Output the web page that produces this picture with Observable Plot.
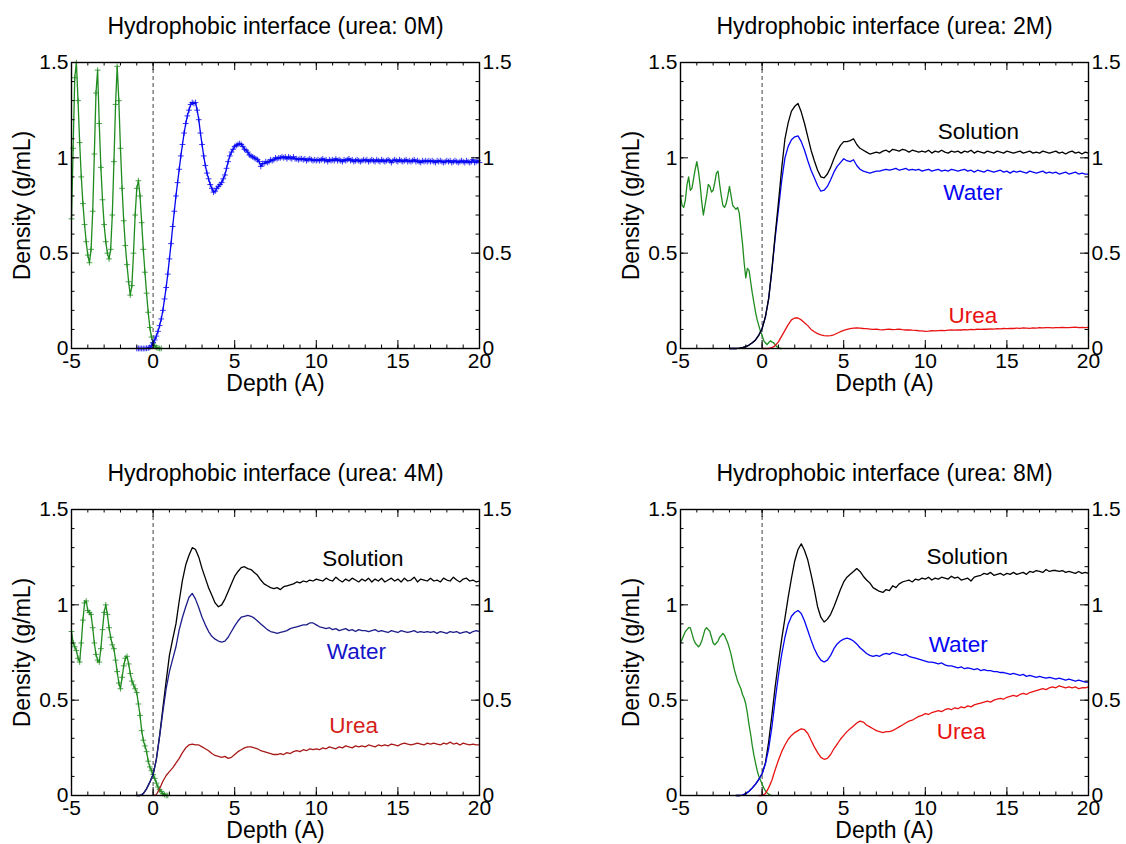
<!DOCTYPE html>
<html><head><meta charset="utf-8">
<script src="https://cdn.jsdelivr.net/npm/d3@7"></script>
<script src="https://cdn.jsdelivr.net/npm/@observablehq/plot@0.6"></script>
<style>
body{margin:0;background:#fff;}
#wrap{position:relative;width:1126px;height:844px;background:#fff;}
#wrap svg{position:absolute;overflow:visible;}
</style></head><body><div id="wrap"></div>
<script>
// ---------- text ----------
const titles = ["Hydrophobic interface (urea: 0M)","Hydrophobic interface (urea: 2M)","Hydrophobic interface (urea: 4M)","Hydrophobic interface (urea: 8M)"];
const xLabel = "Depth (A)";
const yLabel = "Density (g/mL)";
const xMajorTicks = [-5, 0, 5, 10, 15, 20];
const yMajorTicks = [0, 0.5, 1, 1.5];
const xMinorTicks = [-5,-4,-3,-2,-1,0,1,2,3,4,5,6,7,8,9,10,11,12,13,14,15,16,17,18,19,20];
const yMinorTicks = [0,0.1,0.2,0.3,0.4,0.5,0.6,0.7,0.8,0.9,1,1.1,1.2,1.3,1.4,1.5];

// ---------- data (density, g/mL), sampled on a regular depth grid ----------
// 0M
const wall0M = {start:-5, step:0.1, values:[0.68,1.05,1.42,1.50,1.30,1.08,0.90,0.76,0.65,0.56,
 0.49,0.45,0.52,0.72,1.02,1.34,1.46,1.18,0.95,0.78,
 0.65,0.56,0.50,0.47,0.52,0.70,0.98,1.28,1.48,1.30,
 1.05,0.84,0.67,0.54,0.44,0.35,0.28,0.33,0.50,0.70,
 0.84,0.88,0.80,0.66,0.52,0.40,0.29,0.19,0.11,0.06,
 0.03,0.015,0.006,0.002,0,0]};
const water0M = {start:-1, step:0.1, values:[0,0,0,0,0,0,0.001,0.002,0.006,0.015,
 0.03,0.045,0.065,0.09,0.12,0.155,0.20,0.26,0.32,0.39,
 0.47,0.55,0.64,0.72,0.80,0.87,0.94,1.01,1.07,1.13,
 1.18,1.22,1.25,1.28,1.29,1.285,1.29,1.25,1.20,1.13,
 1.07,1.01,0.96,0.92,0.89,0.86,0.84,0.82,0.825,0.84,
 0.85,0.86,0.87,0.89,0.91,0.945,0.98,1.01,1.03,1.045,
 1.06,1.065,1.07,1.075,1.07,1.06,1.045,1.04,1.03,1.015,
 1.01,1.005,1.0,0.995,0.99,0.98,0.955,0.97,0.97,0.98,
 0.975,0.98,0.99,0.985,0.99,1.0,0.995,1.0,1.0,1.005,
 1.0,1.005,0.995,1.005,1.0,0.995,1.005,0.995,0.995,0.99,
 0.995,0.995,0.99,0.995,0.985,0.99,0.995,0.99,0.985,0.99,
 0.985,0.99,0.985,0.99,0.995,0.985,0.99,0.98,0.99,0.985,
 0.99,0.985,0.995,0.985,0.99,0.985,0.98,0.99,0.985,0.99,
 0.995,0.985,0.99,0.98,0.985,0.99,0.985,0.98,0.985,0.99,
 0.985,0.99,0.98,0.985,0.99,0.985,0.98,0.99,0.985,0.98,
 0.99,0.985,0.98,0.985,0.99,0.985,0.975,0.985,0.99,0.985,
 0.98,0.99,0.985,0.98,0.985,0.99,0.98,0.985,0.98,0.985,
 0.99,0.98,0.985,0.98,0.975,0.985,0.98,0.985,0.98,0.985,
 0.98,0.985,0.98,0.975,0.985,0.98,0.985,0.98,0.975,0.98,
 0.985,0.98,0.985,0.975,0.98,0.985,0.98,0.975,0.98,0.985,
 0.98,0.975,0.985,0.98,0.975,0.98,0.99,0.975,0.98,0.985,
 0.975]};
// 2M
const wall2M = {start:-5, step:0.1, values:[0.80,0.75,0.74,0.78,0.86,0.90,0.83,0.84,0.89,0.94,
 0.98,0.93,0.86,0.77,0.70,0.75,0.80,0.86,0.85,0.82,
 0.83,0.87,0.92,0.93,0.86,0.80,0.75,0.74,0.76,0.80,
 0.85,0.80,0.75,0.74,0.73,0.74,0.71,0.63,0.55,0.45,
 0.37,0.42,0.41,0.35,0.29,0.24,0.19,0.15,0.12,0.09,
 0.07,0.04,0.03,0.02,0.03,0.04,0.035,0.03,0.02,0.01,
 0.005,0,0]};
const water2M = {start:-2, step:0.2, values:[0,0,0,0.002,0.005,0.01,0.018,0.03,0.045,0.07,
 0.105,0.165,0.26,0.41,0.58,0.73,0.88,1.00,1.06,1.095,
 1.11,1.115,1.085,1.04,0.985,0.935,0.895,0.855,0.825,0.83,
 0.85,0.885,0.925,0.955,0.975,0.995,0.985,0.98,0.99,0.96,
 0.94,0.93,0.925,0.92,0.925,0.93,0.93,0.935,0.94,0.935,
 0.94,0.945,0.935,0.94,0.945,0.935,0.94,0.935,0.94,0.93,
 0.935,0.94,0.93,0.935,0.94,0.93,0.935,0.93,0.94,0.935,
 0.93,0.935,0.94,0.93,0.935,0.925,0.935,0.93,0.925,0.935,
 0.93,0.925,0.93,0.935,0.925,0.93,0.92,0.93,0.925,0.93,
 0.925,0.92,0.93,0.925,0.92,0.925,0.93,0.92,0.925,0.92,
 0.925,0.915,0.92,0.925,0.915,0.92,0.925,0.915,0.92,0.915,
 0.915]};
const solution2M = {start:-2, step:0.2, values:[0,0,0,0.002,0.005,0.01,0.018,0.03,0.045,0.07,
 0.105,0.165,0.26,0.415,0.595,0.765,0.945,1.10,1.185,1.245,
 1.27,1.285,1.24,1.18,1.11,1.04,0.985,0.935,0.90,0.895,
 0.915,0.95,0.995,1.035,1.065,1.085,1.085,1.09,1.10,1.07,
 1.05,1.04,1.03,1.02,1.025,1.03,1.025,1.035,1.04,1.03,
 1.045,1.04,1.035,1.045,1.04,1.03,1.04,1.035,1.03,1.035,
 1.03,1.04,1.025,1.035,1.03,1.04,1.03,1.025,1.035,1.03,
 1.035,1.025,1.035,1.03,1.04,1.025,1.035,1.03,1.025,1.035,
 1.03,1.025,1.035,1.03,1.025,1.035,1.03,1.025,1.03,1.035,
 1.025,1.03,1.035,1.025,1.03,1.025,1.035,1.03,1.025,1.03,
 1.035,1.025,1.03,1.02,1.03,1.035,1.025,1.03,1.02,1.03,
 1.025]};
const urea2M = {start:0, step:0.2, values:[0,0,0,0.004,0.015,0.035,0.065,0.095,0.125,0.15,
 0.16,0.16,0.15,0.135,0.12,0.10,0.088,0.078,0.072,0.068,
 0.066,0.068,0.072,0.08,0.088,0.095,0.10,0.104,0.107,0.108,
 0.107,0.105,0.104,0.102,0.10,0.101,0.099,0.098,0.10,0.101,
 0.099,0.10,0.102,0.099,0.097,0.098,0.096,0.095,0.093,0.092,
 0.09,0.091,0.093,0.092,0.094,0.095,0.094,0.096,0.097,0.096,
 0.098,0.097,0.099,0.098,0.10,0.099,0.101,0.10,0.102,0.101,
 0.103,0.102,0.104,0.103,0.105,0.104,0.106,0.105,0.107,0.106,
 0.108,0.107,0.106,0.108,0.107,0.109,0.108,0.11,0.109,0.108,
 0.11,0.109,0.111,0.11,0.109,0.111,0.112,0.11,0.111,0.11,
 0.111]};
// 4M
const wall4M = {start:-5, step:0.1, values:[0.86,0.80,0.78,0.76,0.72,0.70,0.80,0.92,1.01,1.02,
 0.97,0.96,0.95,0.88,0.80,0.74,0.71,0.70,0.77,0.87,
 0.96,1.00,0.95,0.88,0.83,0.79,0.77,0.71,0.65,0.59,
 0.56,0.62,0.68,0.72,0.73,0.69,0.64,0.60,0.58,0.56,
 0.54,0.48,0.42,0.34,0.29,0.26,0.23,0.18,0.15,0.13,
 0.11,0.09,0.065,0.045,0.03,0.02,0.01,0.005,0,0]};
const water4M = {start:-1, step:0.2, values:[0,0,0.01,0.035,0.07,0.11,0.19,0.31,0.44,0.56,
 0.65,0.715,0.78,0.87,0.935,0.99,1.04,1.06,1.03,0.985,
 0.935,0.895,0.86,0.835,0.82,0.81,0.805,0.81,0.83,0.86,
 0.89,0.915,0.935,0.94,0.945,0.94,0.93,0.915,0.90,0.885,
 0.87,0.86,0.855,0.85,0.855,0.86,0.865,0.875,0.88,0.885,
 0.89,0.895,0.895,0.905,0.905,0.895,0.885,0.88,0.875,0.88,
 0.87,0.875,0.865,0.87,0.875,0.865,0.87,0.86,0.87,0.865,
 0.865,0.86,0.865,0.87,0.86,0.865,0.86,0.855,0.865,0.86,
 0.855,0.865,0.86,0.855,0.86,0.865,0.855,0.86,0.855,0.86,
 0.855,0.86,0.85,0.86,0.855,0.85,0.86,0.855,0.86,0.85,
 0.855,0.86,0.85,0.86,0.865,
 0.86]};
const solution4M = {start:-1, step:0.2, values:[0,0,0.01,0.035,0.07,0.11,0.19,0.315,0.46,0.60,
 0.735,0.82,0.90,1.02,1.13,1.21,1.26,1.30,1.29,1.25,
 1.19,1.14,1.09,1.05,1.01,0.99,1.00,1.03,1.07,1.11,
 1.15,1.175,1.195,1.20,1.19,1.185,1.17,1.155,1.13,1.11,
 1.10,1.09,1.085,1.09,1.08,1.095,1.10,1.105,1.11,1.12,
 1.115,1.125,1.12,1.13,1.125,1.135,1.13,1.125,1.14,1.13,
 1.125,1.145,1.13,1.12,1.135,1.125,1.14,1.13,1.12,1.135,
 1.125,1.14,1.12,1.135,1.125,1.14,1.12,1.13,1.14,1.125,
 1.135,1.12,1.14,1.125,1.13,1.145,1.12,1.135,1.13,1.125,
 1.14,1.125,1.13,1.12,1.14,1.13,1.125,1.145,1.13,1.12,
 1.135,1.14,1.125,1.13,1.12,
 1.125]};
const urea4M = {start:0, step:0.2, values:[0,0.005,0.035,0.075,0.105,0.125,0.145,0.17,0.195,0.225,
 0.25,0.265,0.27,0.265,0.265,0.255,0.245,0.235,0.22,0.21,
 0.205,0.20,0.205,0.195,0.20,0.215,0.23,0.24,0.25,0.255,
 0.255,0.25,0.245,0.235,0.23,0.225,0.22,0.215,0.215,0.22,
 0.215,0.225,0.22,0.23,0.235,0.23,0.24,0.235,0.245,0.24,
 0.245,0.24,0.25,0.245,0.255,0.25,0.245,0.255,0.25,0.26,
 0.255,0.25,0.26,0.255,0.26,0.255,0.265,0.26,0.255,0.265,
 0.26,0.265,0.26,0.27,0.265,0.26,0.27,0.275,0.27,0.265,
 0.27,0.275,0.27,0.265,0.275,0.27,0.275,0.27,0.265,0.275,
 0.27,0.28,0.27,0.275,0.265,0.275,0.27,0.265,0.27,0.265,
 0.265]};
// 8M
const wall8M = {start:-5, step:0.1, values:[0.80,0.82,0.84,0.86,0.87,0.88,0.88,0.85,0.82,0.80,
 0.79,0.78,0.79,0.81,0.84,0.87,0.88,0.87,0.86,0.83,
 0.80,0.79,0.80,0.81,0.83,0.84,0.85,0.84,0.82,0.80,
 0.77,0.74,0.70,0.66,0.63,0.60,0.58,0.56,0.53,0.51,
 0.48,0.43,0.37,0.32,0.26,0.21,0.17,0.13,0.10,0.08,
 0.06,0.04,0.025,0.015,0.007,0.002,0]};
const water8M = {start:-1.6, step:0.2, values:[0,0,0.002,0.01,0.022,0.04,0.06,0.085,0.114,0.165,
 0.245,0.36,0.50,0.63,0.74,0.83,0.90,0.94,0.96,0.97,
 0.955,0.915,0.865,0.815,0.77,0.735,0.71,0.70,0.71,0.735,
 0.77,0.795,0.81,0.82,0.825,0.82,0.81,0.795,0.775,0.76,
 0.745,0.735,0.73,0.735,0.73,0.74,0.745,0.74,0.75,0.745,
 0.74,0.735,0.74,0.73,0.725,0.72,0.715,0.71,0.705,0.70,
 0.70,0.695,0.69,0.695,0.685,0.68,0.68,0.675,0.67,0.675,
 0.665,0.67,0.665,0.66,0.665,0.655,0.66,0.655,0.655,0.65,
 0.65,0.645,0.645,0.64,0.635,0.64,0.635,0.63,0.635,0.625,
 0.63,0.625,0.62,0.625,0.62,0.615,0.62,0.615,0.61,0.615,
 0.61,0.605,0.61,0.605,0.60,0.605,0.60,0.595,0.595]};
const solution8M = {start:-1.6, step:0.2, values:[0,0,0.002,0.01,0.022,0.04,0.06,0.085,0.114,0.17,
 0.28,0.42,0.57,0.70,0.82,0.93,1.04,1.14,1.23,1.29,
 1.32,1.285,1.235,1.16,1.08,0.99,0.935,0.91,0.925,0.95,
 0.99,1.035,1.08,1.12,1.145,1.16,1.175,1.19,1.175,1.15,
 1.13,1.115,1.09,1.08,1.07,1.065,1.08,1.075,1.10,1.09,
 1.11,1.12,1.125,1.13,1.12,1.135,1.13,1.14,1.135,1.145,
 1.13,1.14,1.135,1.145,1.14,1.135,1.15,1.14,1.145,1.13,
 1.135,1.14,1.125,1.145,1.15,1.155,1.165,1.16,1.17,1.155,
 1.16,1.165,1.155,1.165,1.16,1.17,1.16,1.165,1.17,1.16,
 1.175,1.17,1.18,1.175,1.17,1.185,1.175,1.18,1.18,1.175,
 1.18,1.17,1.175,1.17,1.165,1.175,1.165,1.17,1.165]};
const urea8M = {start:-0.2, step:0.2, values:[0,0,0.01,0.04,0.08,0.135,0.185,0.23,0.265,0.295,
 0.315,0.33,0.34,0.35,0.345,0.325,0.29,0.255,0.225,0.20,
 0.19,0.195,0.215,0.245,0.27,0.295,0.315,0.335,0.35,0.365,
 0.38,0.39,0.385,0.37,0.36,0.35,0.34,0.335,0.33,0.335,
 0.335,0.34,0.35,0.36,0.37,0.38,0.39,0.395,0.405,0.415,
 0.42,0.43,0.425,0.435,0.44,0.445,0.44,0.45,0.455,0.45,
 0.46,0.455,0.465,0.46,0.47,0.465,0.475,0.48,0.485,0.49,
 0.495,0.49,0.50,0.505,0.51,0.505,0.515,0.52,0.525,0.52,
 0.53,0.535,0.53,0.54,0.545,0.55,0.555,0.56,0.555,0.565,
 0.57,0.565,0.575,0.57,0.565,0.57,0.565,0.57,0.56,0.565,
 0.565,0.57]};

// ---------- colours ----------
const green = "#1f8c1f", blue = "#0505f5", red = "#e81212", black = "#000000";
const navy = "#1c1c8a", darkRed = "#a81a1a";

// series label positions (data units)
const labels2M = [{text:"Solution", x:13.25, y:1.134, c:black},{text:"Water", x:12.92, y:0.815, c:blue},{text:"Urea", x:12.92, y:0.173, c:red}];
const labels4M = [{text:"Solution", x:12.86, y:1.241, c:black},{text:"Water", x:12.46, y:0.754, c:"#1414c8"},{text:"Urea", x:12.29, y:0.363, c:"#d41e1e"}];
const labels8M = [{text:"Solution", x:12.57, y:1.25, c:black},{text:"Water", x:12.02, y:0.788, c:blue},{text:"Urea", x:12.19, y:0.334, c:red}];

const toRows = s => s.values.map((y, i) => ({x: Math.round((s.start + i * s.step) * 100) / 100, y}));

const panels = [
  {title: titles[0], left: 0,   top: 0,   ml: 71,  mr: 84, mt: 62, mb: 74,
   series: [{s: wall0M, c: green, marks: true}, {s: water0M, c: blue, marks: true}], labels: []},
  {title: titles[1], left: 563, top: 0,   ml: 117, mr: 38, mt: 62, mb: 74,
   series: [{s: wall2M, c: green}, {s: urea2M, c: red}, {s: water2M, c: blue}, {s: solution2M, c: black}], labels: labels2M},
  {title: titles[2], left: 0,   top: 422, ml: 71,  mr: 84, mt: 87, mb: 49,
   series: [{s: wall4M, c: green, marks: true}, {s: urea4M, c: darkRed}, {s: solution4M, c: black}, {s: water4M, c: navy}], labels: labels4M},
  {title: titles[3], left: 563, top: 422, ml: 117, mr: 38, mt: 87, mb: 49,
   series: [{s: wall8M, c: green}, {s: urea8M, c: red}, {s: solution8M, c: black}, {s: water8M, c: blue}], labels: labels8M}
];

const W = 563, H = 422;
const font = "'Liberation Sans', Arial, Helvetica, sans-serif";
const wrap = document.getElementById("wrap");

for (const p of panels) {
  const fw = W - p.ml - p.mr, fh = H - p.mt - p.mb;
  const marks = [];
  marks.push(Plot.ruleX([0], {stroke: "#111", strokeWidth: 0.8, strokeDasharray: "4,3"}));
  for (const ser of p.series) {
    const rows = toRows(ser.s);
    marks.push(Plot.line(rows, {x: "x", y: "y", stroke: ser.c, strokeWidth: 1.3}));
    if (ser.marks) marks.push(Plot.dot(rows, {x: "x", y: "y", symbol: "plus", r: 2, stroke: ser.c, strokeWidth: 0.8}));
  }
  // inward ticks on all four sides
  marks.push(
    Plot.ruleX(xMinorTicks, {insetTop: fh - 3.5, stroke: "black"}),
    Plot.ruleX(xMinorTicks, {insetBottom: fh - 3.5, stroke: "black"}),
    Plot.ruleX(xMajorTicks, {insetTop: fh - 8, stroke: "black"}),
    Plot.ruleX(xMajorTicks, {insetBottom: fh - 8, stroke: "black"}),
    Plot.ruleY(yMinorTicks, {insetRight: fw - 3.5, stroke: "black"}),
    Plot.ruleY(yMinorTicks, {insetLeft: fw - 3.5, stroke: "black"}),
    Plot.ruleY(yMajorTicks, {insetRight: fw - 8, stroke: "black"}),
    Plot.ruleY(yMajorTicks, {insetLeft: fw - 8, stroke: "black"}),
    Plot.frame({stroke: "black", strokeWidth: 1.4}),
    Plot.axisX({anchor: "bottom", ticks: xMajorTicks, tickSize: 0, tickPadding: 5, tickFormat: d => String(d), label: null, fontSize: 21}),
    Plot.axisY({anchor: "left", ticks: yMajorTicks, tickSize: 0, tickPadding: 3, tickFormat: d => String(d), label: null, fontSize: 21}),
    Plot.axisY({anchor: "right", ticks: yMajorTicks, tickSize: 0, tickPadding: 3, tickFormat: d => String(d), label: null, fontSize: 21}),
    Plot.text([p.title], {frameAnchor: "top", lineAnchor: "middle", textAnchor: "middle", dy: -36, fontSize: 23, fill: "black"}),
    Plot.text([xLabel], {frameAnchor: "bottom", lineAnchor: "middle", textAnchor: "middle", dy: 35, fontSize: 23, fill: "black"}),
    Plot.text([yLabel], {frameAnchor: "left", lineAnchor: "middle", textAnchor: "middle", dx: -49, rotate: -90, fontSize: 23, fill: "black"}),
    Plot.text(p.labels, {x: "x", y: "y", text: "text", fill: "c", fontSize: 22.5})
  );
  const svg = Plot.plot({
    width: W, height: H,
    marginLeft: p.ml, marginRight: p.mr, marginTop: p.mt, marginBottom: p.mb,
    x: {domain: [-5, 20]},
    y: {domain: [0, 1.5]},
    style: {fontFamily: font, background: "transparent", color: "black", overflow: "visible"},
    marks
  });
  svg.style.left = p.left + "px";
  svg.style.top = p.top + "px";
  wrap.appendChild(svg);
}
</script>
</body></html>
